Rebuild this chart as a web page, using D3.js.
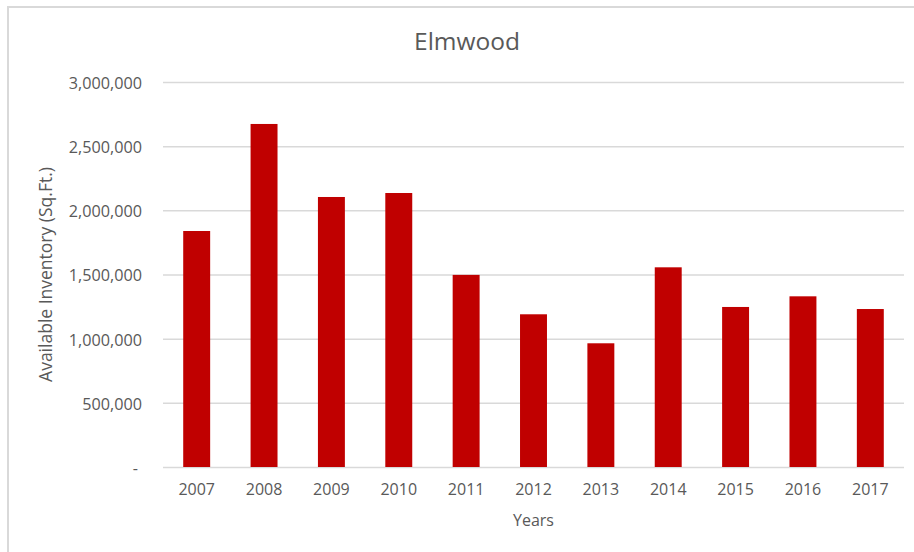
<!DOCTYPE html>
<html>
<head>
<meta charset="utf-8">
<script src="https://cdn.jsdelivr.net/npm/d3@7"></script>
<style>
  html, body { margin: 0; padding: 0; background: #fff; }
  svg { display: block; }
  text { font-family: "Open Sans", "Liberation Sans", sans-serif; fill: #595959; }
</style>
</head>
<body>
<svg id="chart" width="914" height="552"></svg>
<script>
const years = ["2007","2008","2009","2010","2011","2012","2013","2014","2015","2016","2017"];
const inventory = [1839000, 2673000, 2104000, 2135000, 1497000, 1190000, 964000, 1556000, 1247000, 1330000, 1231000];
const yTicks = [0, 500000, 1000000, 1500000, 2000000, 2500000, 3000000];
const titleText = "Elmwood";
const xTitle = "Years";
const yTitle = "Available Inventory (Sq.Ft.)";

const svg = d3.select("#chart");
const W = 914, H = 552;
const m = { left: 163, right: 10, top: 82, bottom: 85 };

// chart border (top and left visible)
svg.append("path")
  .attr("d", `M8,${H} L8,7 L${W},7`)
  .attr("fill", "none")
  .attr("stroke", "#d9d9d9")
  .attr("stroke-width", 2);

const x = d3.scaleBand().domain(years).range([m.left, W - m.right]).paddingInner(0.6).paddingOuter(0.3);
const y = d3.scaleLinear().domain([0, 3000000]).range([H - m.bottom, m.top]);

// gridlines
const fmt = d3.format(",");
const yAxis = d3.axisLeft(y).tickValues(yTicks)
  .tickSize(-(W - m.right - m.left))
  .tickPadding(21)
  .tickFormat(d => d === 0 ? "-" : fmt(d));
const gy = svg.append("g").attr("transform", `translate(${m.left},0)`).call(yAxis);
gy.select(".domain").remove();
gy.selectAll(".tick line").attr("stroke", "#d9d9d9").attr("stroke-width", 1.5);
gy.selectAll(".tick text").attr("font-size", 16.2).attr("fill", "#595959")
  .attr("font-family", '"Open Sans", sans-serif')
  .attr("dy", "0.4em");
gy.selectAll(".tick text").filter(d => d === 0).attr("dx", -4);

// bars
svg.append("g").selectAll("rect").data(years).join("rect")
  .attr("x", d => x(d))
  .attr("width", x.bandwidth())
  .attr("y", (d, i) => y(inventory[i]))
  .attr("height", (d, i) => y(0) - y(inventory[i]))
  .attr("fill", "#c00000");

// x axis
const xAxis = d3.axisBottom(x).tickSize(0).tickPadding(17);
const gx = svg.append("g").attr("transform", `translate(0,${y(0)})`).call(xAxis);
gx.select(".domain").remove();
gx.selectAll(".tick text").attr("font-size", 16).attr("fill", "#595959")
  .attr("font-family", '"Open Sans", sans-serif');

// titles
svg.append("text").attr("x", 467).attr("y", 50).attr("text-anchor", "middle")
  .attr("font-size", 24.5).text(titleText);
svg.append("text").attr("x", (m.left + W - m.right) / 2).attr("y", 526).attr("text-anchor", "middle")
  .attr("font-size", 16).text(xTitle);
svg.append("text").attr("transform", `translate(52,${(y(0) + y(3000000)) / 2}) rotate(-90)`)
  .attr("text-anchor", "middle").attr("font-size", 17.5).text(yTitle);
</script>
</body>
</html>
